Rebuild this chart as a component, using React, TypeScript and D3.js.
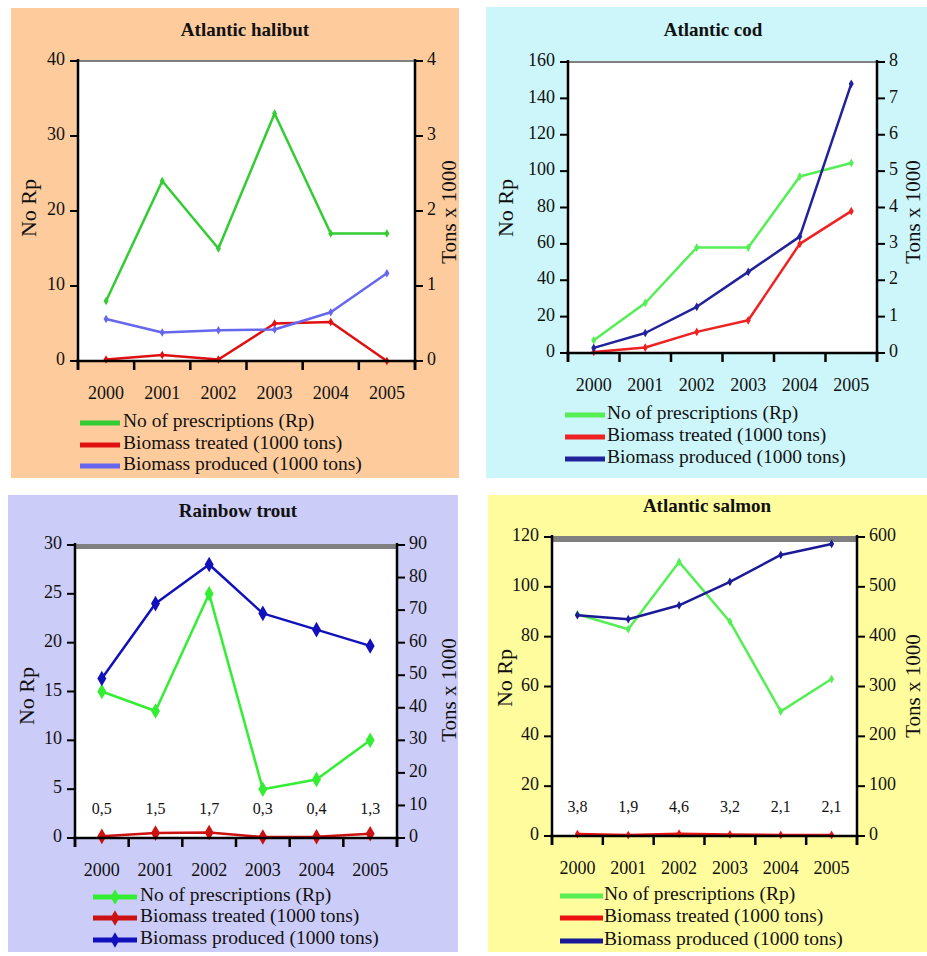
import React from "react";
import * as d3 from "d3";

const years = ["2000", "2001", "2002", "2003", "2004", "2005"];
const legendLabels = ["No of prescriptions (Rp)", "Biomass treated (1000 tons)", "Biomass produced (1000 tons)"];

const halibutRp = [8, 24, 15, 33, 17, 17];
const halibutTreated = [0.02, 0.08, 0.02, 0.5, 0.52, 0];
const halibutProduced = [0.56, 0.38, 0.41, 0.42, 0.65, 1.17];
const halibutLeftTicks = [0, 10, 20, 30, 40];
const halibutRightTicks = [0, 1, 2, 3, 4];

const codRp = [7, 27.5, 58, 58, 97, 104.5];
const codTreated = [0.03, 0.15, 0.58, 0.9, 3.0, 3.9];
const codProduced = [0.14, 0.55, 1.27, 2.23, 3.2, 7.4];
const codLeftTicks = [0, 20, 40, 60, 80, 100, 120, 140, 160];
const codRightTicks = [0, 1, 2, 3, 4, 5, 6, 7, 8];

const troutRp = [15, 13, 25, 5, 6, 10];
const troutTreated = [0.5, 1.5, 1.7, 0.3, 0.4, 1.3];
const troutProduced = [49, 72, 84, 69, 64, 59];
const troutLabels = ["0,5", "1,5", "1,7", "0,3", "0,4", "1,3"];
const troutLeftTicks = [0, 5, 10, 15, 20, 25, 30];
const troutRightTicks = [0, 10, 20, 30, 40, 50, 60, 70, 80, 90];

const salmonRp = [89, 83, 110, 86, 50, 63];
const salmonTreated = [3.8, 1.9, 4.6, 3.2, 2.1, 2.1];
const salmonProduced = [443, 435, 463, 510, 564, 586];
const salmonLabels = ["3,8", "1,9", "4,6", "3,2", "2,1", "2,1"];
const salmonLeftTicks = [0, 20, 40, 60, 80, 100, 120];
const salmonRightTicks = [0, 100, 200, 300, 400, 500, 600];

type Cfg = {
  title: string;
  bg: string;
  box: [number, number, number, number];
  plot: { l: number; r: number; t: number; b: number };
  titlePos: [number, number];
  leftTicks: number[];
  rightTicks: number[];
  rp: number[];
  treated: number[];
  produced: number[];
  colors: [string, string, string];
  markerSize: number;
  topBand: number;
  labels?: string[];
  labelY?: number;
  leftTitle: [number, number];
  rightTitle: [number, number];
  legend: { x0: number; x1: number; tx: number; ys: number[] };
};

const FONT = "Liberation Serif, Times New Roman, serif";
const TS: React.CSSProperties = { fontFamily: FONT };

function Panel({ c }: { c: Cfg }) {
  const { l, r, t, b } = c.plot;
  const x = d3.scaleBand<string>().domain(years).range([l, r]).padding(0);
  const yL = d3.scaleLinear().domain([0, c.leftTicks[c.leftTicks.length - 1]]).range([b, t]);
  const yR = d3.scaleLinear().domain([0, c.rightTicks[c.rightTicks.length - 1]]).range([b, t]);
  const cx = (i: number) => (x(years[i]) as number) + x.bandwidth() / 2;
  const line = (vals: number[], y: d3.ScaleLinear<number, number>) =>
    d3.line<number>().x((_, i) => cx(i)).y((v) => y(v))(vals) || "";
  const sym = d3.symbol().type(d3.symbolDiamond).size(c.markerSize)() || "";
  const series: [number[], d3.ScaleLinear<number, number>, string][] = [
    [c.rp, yL, c.colors[0]],
    [c.treated, yR, c.colors[1]],
    [c.produced, yR, c.colors[2]],
  ];
  const bounds = years.map((yv) => x(yv) as number).concat([r]);
  return (
    <g style={TS}>
      <rect x={c.box[0]} y={c.box[1]} width={c.box[2]} height={c.box[3]} fill={c.bg} />
      <text style={TS} x={c.titlePos[0]} y={c.titlePos[1]} textAnchor="middle" dominantBaseline="middle" fontWeight="bold" fontSize={19} fill="#111">
        {c.title}
      </text>
      <rect x={l} y={t} width={r - l} height={b - t} fill="#fff" />
      <line x1={l} x2={r} y1={t + c.topBand / 2 - 1} y2={t + c.topBand / 2 - 1} stroke="#808080" strokeWidth={c.topBand} />
      {series.map(([vals, y, col], si) => (
        <g key={si}>
          <path d={line(vals, y)} fill="none" stroke={col} strokeWidth={2.5} strokeLinejoin="round" />
          {vals.map((v, i) => (
            <path key={i} d={sym} transform={`translate(${cx(i)},${y(v)})`} fill={col} />
          ))}
        </g>
      ))}
      {c.labels &&
        c.labels.map((s, i) => (
          <text style={TS} key={i} x={cx(i)} y={c.labelY} textAnchor="middle" dominantBaseline="middle" fontSize={16} fill="#111">
            {s}
          </text>
        ))}
      <line x1={l} x2={l} y1={t - 2} y2={b + 9} stroke="#000" strokeWidth={2.5} />
      <line x1={r} x2={r} y1={t - 2} y2={b + 9} stroke="#000" strokeWidth={2.5} />
      <line x1={l - 2} x2={r + 2} y1={b} y2={b} stroke="#000" strokeWidth={2.5} />
      {bounds.map((bx, i) => (
        <line key={i} x1={bx} x2={bx} y1={b} y2={b + 9} stroke="#000" strokeWidth={2.5} />
      ))}
      {c.leftTicks.map((v) => (
        <g key={v}>
          <line x1={l - 8} x2={l} y1={yL(v)} y2={yL(v)} stroke="#000" strokeWidth={2} />
          <text style={TS} x={l - 13} y={yL(v)} textAnchor="end" dominantBaseline="middle" fontSize={18} fill="#111">
            {v}
          </text>
        </g>
      ))}
      {c.rightTicks.map((v) => (
        <g key={v}>
          <line x1={r} x2={r + 8} y1={yR(v)} y2={yR(v)} stroke="#000" strokeWidth={2} />
          <text style={TS} x={r + 12} y={yR(v)} textAnchor="start" dominantBaseline="middle" fontSize={18} fill="#111">
            {v}
          </text>
        </g>
      ))}
      {years.map((yv, i) => (
        <text style={TS} key={yv} x={cx(i)} y={b + 34} textAnchor="middle" dominantBaseline="middle" fontSize={18} fill="#111">
          {yv}
        </text>
      ))}
      <text style={TS} transform={`translate(${c.leftTitle[0]},${c.leftTitle[1]}) rotate(-90)`} textAnchor="middle" dominantBaseline="middle" fontSize={22} fill="#111">
        No Rp
      </text>
      <text style={TS} transform={`translate(${c.rightTitle[0]},${c.rightTitle[1]}) rotate(-90)`} textAnchor="middle" dominantBaseline="middle" fontSize={21} fill="#111">
        Tons x 1000
      </text>
      {legendLabels.map((s, i) => (
        <g key={s}>
          <line x1={c.legend.x0} x2={c.legend.x1} y1={c.legend.ys[i]} y2={c.legend.ys[i]} stroke={c.colors[i]} strokeWidth={5} />
          {c.markerSize > 40 && (
            <path d={sym} transform={`translate(${(c.legend.x0 + c.legend.x1) / 2},${c.legend.ys[i]})`} fill={c.colors[i]} />
          )}
          <text style={TS} x={c.legend.tx} y={c.legend.ys[i]} dominantBaseline="middle" fontSize={19.5} fill="#111">
            {s}
          </text>
        </g>
      ))}
    </g>
  );
}

const panels: Cfg[] = [
  {
    title: "Atlantic halibut",
    bg: "#FDCB9C",
    box: [11, 8, 448, 470],
    plot: { l: 78, r: 415, t: 61, b: 361 },
    titlePos: [245, 32],
    leftTicks: halibutLeftTicks,
    rightTicks: halibutRightTicks,
    rp: halibutRp,
    treated: halibutTreated,
    produced: halibutProduced,
    colors: ["#33CC33", "#E01010", "#6666EE"],
    markerSize: 22,
    topBand: 2,
    leftTitle: [31, 208],
    rightTitle: [451, 212],
    legend: { x0: 80, x1: 120, tx: 123, ys: [423, 445, 466] },
  },
  {
    title: "Atlantic cod",
    bg: "#CCF6FA",
    box: [486, 7, 441, 471],
    plot: { l: 568, r: 877, t: 62, b: 353 },
    titlePos: [713, 32],
    leftTicks: codLeftTicks,
    rightTicks: codRightTicks,
    rp: codRp,
    treated: codTreated,
    produced: codProduced,
    colors: ["#55EE55", "#EE2222", "#22229A"],
    markerSize: 22,
    topBand: 2,
    leftTitle: [508, 208],
    rightTitle: [915, 212],
    legend: { x0: 565, x1: 605, tx: 607, ys: [415, 437, 459] },
  },
  {
    title: "Rainbow trout",
    bg: "#CCCCF8",
    box: [8, 495, 450, 457],
    plot: { l: 75, r: 397, t: 545, b: 838 },
    titlePos: [238, 513],
    leftTicks: troutLeftTicks,
    rightTicks: troutRightTicks,
    rp: troutRp,
    treated: troutTreated,
    produced: troutProduced,
    colors: ["#33EE33", "#CC1111", "#1111BB"],
    markerSize: 70,
    topBand: 5,
    labels: troutLabels,
    labelY: 810,
    leftTitle: [29, 696],
    rightTitle: [451, 690],
    legend: { x0: 93, x1: 137, tx: 140, ys: [897, 918, 940] },
  },
  {
    title: "Atlantic salmon",
    bg: "#FFFC9E",
    box: [488, 495, 439, 457],
    plot: { l: 552, r: 857, t: 537, b: 836 },
    titlePos: [707, 508],
    leftTicks: salmonLeftTicks,
    rightTicks: salmonRightTicks,
    rp: salmonRp,
    treated: salmonTreated,
    produced: salmonProduced,
    colors: ["#55EE55", "#EE1111", "#1A1A99"],
    markerSize: 22,
    topBand: 6,
    labels: salmonLabels,
    labelY: 808,
    leftTitle: [507, 678],
    rightTitle: [915, 686],
    legend: { x0: 560, x1: 603, tx: 604, ys: [896, 918, 941] },
  },
];

export default function App() {
  return (
    <svg width={927} height={956} style={{ position: "absolute", left: 0, top: 0, background: "#fff" }}>
      {panels.map((p) => (
        <Panel key={p.title} c={p} />
      ))}
    </svg>
  );
}
